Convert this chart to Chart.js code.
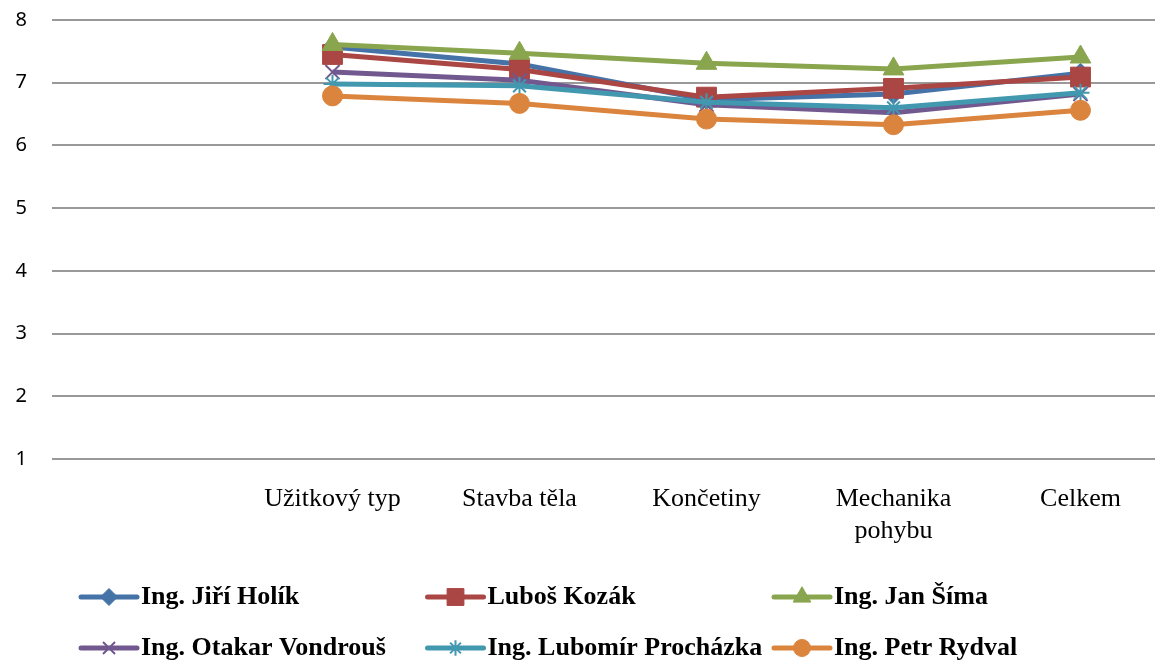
<!DOCTYPE html>
<html>
<head>
<meta charset="utf-8">
<script src="https://cdn.jsdelivr.net/npm/chart.js@4"></script>
<style>
  html, body { margin: 0; padding: 0; background: #fff; overflow: hidden; }
  #wrap { width: 1155px; height: 664px; overflow: hidden; }
  #chart { display: block; margin-top: -17px; }
</style>
</head>
<body>
<div id="wrap"><canvas id="chart" width="1189" height="681"></canvas></div>
<script>
// categories (first slot is empty in the original sheet)
const categories = ["", "Užitkový typ", "Stavba těla", "Končetiny", ["Mechanika", "pohybu"], "Celkem"];
const yTicks = [1, 2, 3, 4, 5, 6, 7, 8];

// average marks per judge
const holik     = [null, 7.57, 7.30, 6.73, 6.82, 7.15];
const kozak     = [null, 7.45, 7.21, 6.77, 6.91, 7.09];
const sima      = [null, 7.61, 7.47, 7.31, 7.22, 7.41];
const vondrous  = [null, 7.17, 7.04, 6.65, 6.52, 6.82];
const prochazka = [null, 6.98, 6.95, 6.69, 6.60, 6.84];
const rydval    = [null, 6.79, 6.67, 6.42, 6.33, 6.56];

const labels = ["Ing. Jiří Holík", "Luboš Kozák", "Ing. Jan Šíma",
                "Ing. Otakar Vondrouš", "Ing. Lubomír Procházka", "Ing. Petr Rydval"];
const colors = ["#4572A7", "#AA4643", "#89A54E", "#71588F", "#4198AF", "#DB843D"];
const styles = ["rectRot", "rect", "triangle", "crossRot", "star", "circle"];
const radii  = [10, 14, 12, 10, 9, 10];
const borders = [1, 1, 1, 2, 2, 1];

const series = [holik, kozak, sima, vondrous, prochazka, rydval];

const SHIFT = 17; // canvas is pulled up by this much

const datasets = series.map((data, i) => ({
  label: labels[i],
  data,
  borderColor: colors[i],
  backgroundColor: colors[i],
  borderWidth: 5,
  tension: 0,
  pointStyle: styles[i],
  pointRadius: radii[i],
  pointHoverRadius: radii[i],
  pointBackgroundColor: colors[i],
  pointBorderColor: colors[i],
  pointBorderWidth: borders[i],
  order: 6 - i,           // later series drawn on top, like Excel
}));

// legend laid out in 3 fixed columns, 2 rows
const gridLegend = {
  id: "gridLegend",
  afterDraw(chart) {
    const ctx = chart.ctx;
    ctx.save();
    chart.data.datasets.forEach((ds, i) => {
      const x = 81 + (i % 3) * 346.5;
      const y = SHIFT + 597 + Math.floor(i / 3) * 51;
      ctx.strokeStyle = ds.borderColor;
      ctx.lineWidth = 5;
      ctx.lineCap = "round";
      ctx.beginPath();
      ctx.moveTo(x, y);
      ctx.lineTo(x + 56, y);
      ctx.stroke();
      ctx.lineCap = "butt";
      ctx.fillStyle = ds.pointBackgroundColor;
      ctx.strokeStyle = ds.pointBorderColor;
      ctx.lineWidth = ds.pointBorderWidth;
      Chart.helpers.drawPoint(ctx, {
        pointStyle: ds.pointStyle,
        radius: ds.pointRadius * 0.85,
        rotation: 0,
        borderWidth: ds.pointBorderWidth
      }, x + 28, y);
      ctx.fillStyle = "#000";
      ctx.font = 'bold 26px "Liberation Serif"';
      ctx.textBaseline = "middle";
      ctx.textAlign = "left";
      ctx.fillText(ds.label, x + 60, y);
    });
    ctx.restore();
  }
};

new Chart(document.getElementById("chart"), {
  type: "line",
  data: { labels: categories, datasets },
  plugins: [gridLegend],
  options: {
    responsive: false,
    animation: false,
    layout: { padding: { top: 3, left: 0, right: 6, bottom: 105 } },
    plugins: {
      legend: { display: false },
      tooltip: { enabled: false },
      title: { display: false }
    },
    scales: {
      x: {
        offset: true,
        grid: { display: false, drawTicks: false },
        border: { display: false },
        ticks: {
          color: "#000",
          padding: 25,
          maxRotation: 0,
          autoSkip: false,
          font: { family: "Liberation Serif", size: 26, lineHeight: 1.2 }
        },
        afterFit: s => { s.height = 100; }
      },
      y: {
        min: 1,
        max: 8,
        afterBuildTicks: s => { s.ticks = yTicks.map(v => ({ value: v })); },
        grid: { color: "#999999", lineWidth: 2, drawTicks: false },
        border: { display: false },
        ticks: {
          color: "#000",
          padding: 25,
          font: { family: "Noto Sans", size: 20 }
        },
        afterFit: s => { s.width = 52; }
      }
    }
  }
});
</script>
</body>
</html>
